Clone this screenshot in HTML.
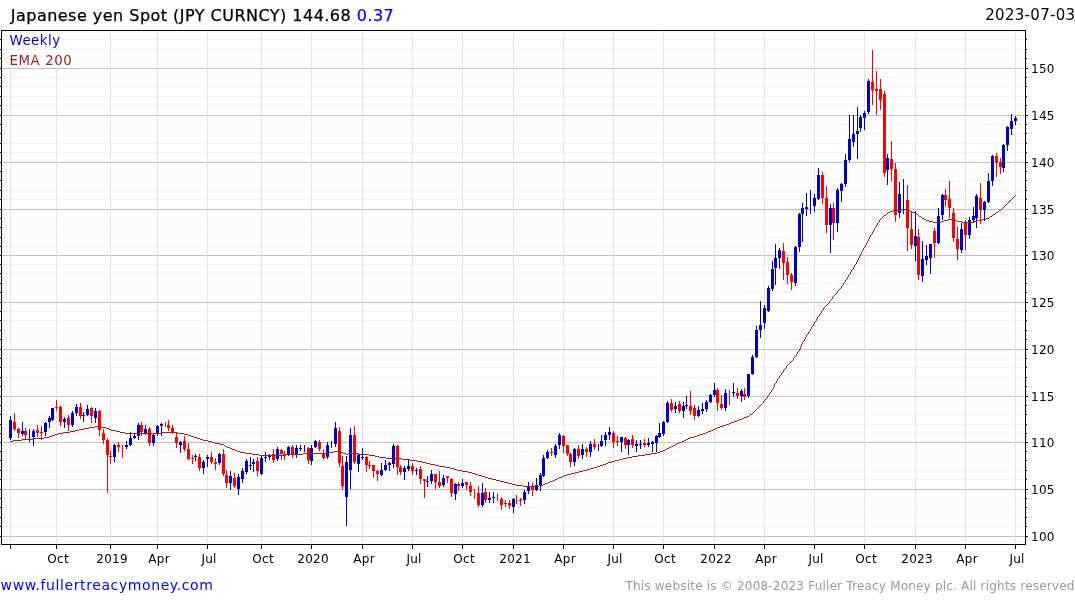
<!DOCTYPE html>
<html lang="en"><head><meta charset="utf-8"><title>Japanese yen Spot (JPY CURNCY)</title>
<style>html,body{margin:0;padding:0;background:#fff}body{width:1075px;height:600px;overflow:hidden}svg{display:block;will-change:transform}text{font-family:"DejaVu Sans","Liberation Sans",sans-serif}</style></head><body>
<svg width="1075" height="600" viewBox="0 0 1075 600">
<rect width="1075" height="600" fill="#fff"/>
<g shape-rendering="crispEdges" fill="none">
<path d="M2 526.5H1025M2 517.5H1025M2 507.5H1025M2 498.5H1025M2 479.5H1025M2 470.5H1025M2 460.5H1025M2 451.5H1025M2 433.5H1025M2 424.5H1025M2 414.5H1025M2 405.5H1025M2 386.5H1025M2 377.5H1025M2 367.5H1025M2 358.5H1025M2 339.5H1025M2 330.5H1025M2 320.5H1025M2 311.5H1025M2 292.5H1025M2 283.5H1025M2 273.5H1025M2 264.5H1025M2 246.5H1025M2 237.5H1025M2 227.5H1025M2 218.5H1025M2 199.5H1025M2 190.5H1025M2 180.5H1025M2 171.5H1025M2 152.5H1025M2 143.5H1025M2 133.5H1025M2 124.5H1025M2 105.5H1025M2 96.5H1025M2 86.5H1025M2 77.5H1025M2 58.5H1025M2 49.5H1025M2 39.5H1025M2 30.5H1025" stroke="#f1f1f1"/>
<path d="M2 536.5H1025M2 489.5H1025M2 442.5H1025M2 396.5H1025M2 349.5H1025M2 302.5H1025M2 255.5H1025M2 209.5H1025M2 162.5H1025M2 115.5H1025M2 68.5H1025" stroke="#c0c0c0"/>
<path d="M10.5 31V544M56.5 31V544M110.5 31V544M157.5 31V544M207.5 31V544M261.5 31V544M311.5 31V544M362.5 31V544M412.5 31V544M462.5 31V544M513.5 31V544M563.5 31V544M613.5 31V544M663.5 31V544M714.5 31V544M764.5 31V544M814.5 31V544M864.5 31V544M915.5 31V544M965.5 31V544M1015.5 31V544" stroke="#e3e3e3"/>
</g>
<rect x="10" y="31" width="50" height="17" fill="#fff"/><rect x="10" y="50" width="61" height="17" fill="#fff"/>
<text x="9.5" y="45" font-size="13.33" letter-spacing=".5" fill="#0000cd">Weekly</text>
<text x="9.5" y="65" font-size="13.33" letter-spacing=".6" fill="#a01e22">EMA 200</text>
<g shape-rendering="crispEdges">
<path d="M10.5 416V440M22.5 422V436M29.5 429V442M33.5 429V446M45.5 422V436M49.5 416V428M52.5 408V421M64.5 417V428M72.5 411V427M76.5 404V416M83.5 412V422M87.5 405V416M95.5 408V423M114.5 444V462M126.5 441V449M130.5 432V446M134.5 434V439M138.5 423V440M145.5 425V435M153.5 434V446M157.5 425V436M161.5 423V436M180.5 441V453M195.5 454V461M203.5 460V474M207.5 455V467M219.5 453V465M230.5 471V490M238.5 474V495M242.5 468V483M246.5 459V474M250.5 457V470M253.5 459V472M261.5 456V475M265.5 452V462M269.5 454V460M277.5 447V461M288.5 446V456M296.5 445V458M300.5 445V451M304.5 445V452M311.5 445V465M315.5 440V448M327.5 442V459M331.5 441V448M335.5 422V447M346.5 456V526M350.5 428V489M358.5 454V472M362.5 448V460M381.5 463V476M385.5 460V471M389.5 462V471M393.5 444V468M404.5 466V480M408.5 460V471M416.5 468V475M427.5 476V487M431.5 470V484M443.5 475V487M455.5 483V500M462.5 479V488M482.5 483V507M489.5 492V503M493.5 492V503M513.5 498V513M524.5 490V504M528.5 482V494M536.5 478V491M540.5 473V491M543.5 455V477M547.5 450V459M555.5 444V458M559.5 433V449M574.5 448V466M582.5 444V459M590.5 441V457M598.5 444V451M601.5 435V447M605.5 432V446M609.5 427V440M621.5 437V452M628.5 439V455M636.5 440V452M640.5 440V449M648.5 438V447M652.5 441V452M656.5 435V452M659.5 423V438M663.5 421V436M667.5 401V423M675.5 402V413M683.5 402V418M686.5 396V409M698.5 406V417M702.5 403V414M706.5 400V412M710.5 394V403M714.5 383V397M725.5 389V411M733.5 383V397M741.5 389V402M748.5 374V398M752.5 355V375M756.5 326V358M760.5 301V338M764.5 305V329M768.5 286V312M772.5 261V291M775.5 244V285M779.5 248V269M795.5 246V286M799.5 213V252M802.5 203V242M806.5 193V216M810.5 190V214M814.5 194V212M818.5 168V200M830.5 204V253M837.5 188V232M841.5 183V202M845.5 154V187M849.5 115V162M853.5 115V147M857.5 107V159M860.5 115V132M864.5 111V130M868.5 79V114M887.5 154V185M899.5 182V218M903.5 179V214M915.5 211V261M922.5 241V282M926.5 245V265M930.5 244V274M938.5 208V244M942.5 194V220M961.5 223V253M969.5 217V239M973.5 207V222M976.5 194V228M984.5 201V221M988.5 173V203M992.5 155V186M1003.5 144V172M1007.5 126V151M1011.5 114V135M1015.5 116V125" stroke="#0000cd" fill="none"/>
<path d="M9 420h3V438h-3zM21 431h3V434h-3zM32 431h3V437h-3zM44 423h3V432h-3zM48 418h3V422h-3zM51 408h3V420h-3zM63 419h3V422h-3zM71 413h3V425h-3zM75 407h3V413h-3zM82 415h3V416h-3zM86 409h3V415h-3zM94 411h3V418h-3zM113 445h3V457h-3zM125 445h3V447h-3zM129 438h3V445h-3zM133 436h3V438h-3zM137 425h3V436h-3zM144 429h3V433h-3zM152 435h3V443h-3zM156 426h3V433h-3zM160 424h3V426h-3zM179 442h3V445h-3zM194 456h3V457h-3zM202 462h3V468h-3zM206 457h3V459h-3zM218 454h3V463h-3zM229 476h3V483h-3zM237 477h3V489h-3zM241 471h3V479h-3zM245 461h3V472h-3zM249 465h3V466h-3zM252 462h3V464h-3zM260 458h3V474h-3zM264 457h3V458h-3zM268 456h3V457h-3zM276 449h3V459h-3zM287 447h3V454h-3zM295 448h3V454h-3zM299 448h3V449h-3zM310 448h3V461h-3zM314 441h3V447h-3zM326 445h3V457h-3zM334 428h3V444h-3zM345 462h3V497h-3zM349 435h3V470h-3zM357 455h3V464h-3zM361 457h3V458h-3zM380 470h3V475h-3zM384 465h3V470h-3zM388 463h3V465h-3zM392 446h3V464h-3zM403 468h3V472h-3zM407 466h3V469h-3zM415 470h3V471h-3zM426 481h3V482h-3zM430 474h3V481h-3zM442 478h3V485h-3zM454 484h3V494h-3zM461 483h3V486h-3zM481 493h3V505h-3zM488 498h3V500h-3zM492 497h3V498h-3zM512 499h3V507h-3zM523 492h3V500h-3zM527 486h3V491h-3zM535 485h3V490h-3zM539 475h3V485h-3zM542 458h3V476h-3zM546 452h3V458h-3zM554 446h3V455h-3zM558 435h3V445h-3zM573 449h3V462h-3zM581 449h3V455h-3zM589 444h3V452h-3zM600 441h3V446h-3zM604 435h3V440h-3zM608 432h3V435h-3zM620 437h3V442h-3zM627 440h3V445h-3zM635 444h3V446h-3zM639 444h3V445h-3zM647 443h3V445h-3zM651 442h3V444h-3zM655 436h3V443h-3zM658 433h3V437h-3zM662 422h3V434h-3zM666 403h3V422h-3zM674 406h3V409h-3zM682 406h3V411h-3zM685 405h3V406h-3zM697 410h3V416h-3zM701 409h3V411h-3zM705 402h3V409h-3zM709 395h3V402h-3zM713 390h3V395h-3zM724 393h3V408h-3zM732 392h3V393h-3zM740 391h3V396h-3zM747 374h3V396h-3zM751 357h3V374h-3zM755 330h3V357h-3zM759 325h3V330h-3zM763 308h3V323h-3zM767 288h3V311h-3zM771 269h3V289h-3zM774 258h3V268h-3zM778 250h3V258h-3zM794 247h3V283h-3zM798 214h3V247h-3zM801 208h3V214h-3zM805 207h3V209h-3zM813 198h3V206h-3zM817 175h3V199h-3zM829 208h3V225h-3zM836 190h3V223h-3zM840 184h3V191h-3zM844 160h3V184h-3zM848 139h3V160h-3zM852 134h3V142h-3zM856 131h3V134h-3zM859 117h3V128h-3zM863 113h3V118h-3zM867 81h3V112h-3zM886 158h3V170h-3zM898 194h3V213h-3zM914 236h3V246h-3zM921 259h3V276h-3zM925 256h3V260h-3zM929 244h3V258h-3zM937 216h3V243h-3zM941 195h3V215h-3zM960 229h3V250h-3zM968 220h3V235h-3zM972 216h3V220h-3zM975 196h3V218h-3zM983 202h3V210h-3zM987 181h3V202h-3zM991 156h3V181h-3zM1002 145h3V168h-3zM1006 127h3V145h-3zM1010 121h3V129h-3zM1014 118h3V121h-3z" fill="#0000cd"/>
<path d="M14.5 413V431M18.5 428V438M25.5 428V439M37.5 425V437M41.5 426V440M56.5 400V411M60.5 406V426M68.5 415V431M80.5 403V419M91.5 407V423M99.5 410V436M103.5 429V444M107.5 438V493M110.5 451V464M118.5 442V452M122.5 445V458M141.5 422V436M149.5 427V446M165.5 422V427M168.5 420V431M172.5 425V434M176.5 432V448M184.5 436V451M188.5 443V460M192.5 455V464M199.5 454V471M211.5 452V464M215.5 458V470M223.5 449V476M226.5 470V488M234.5 473V488M257.5 457V476M273.5 449V463M281.5 449V460M284.5 451V460M292.5 445V458M308.5 447V464M319.5 440V451M323.5 449V459M339.5 427V467M342.5 456V490M354.5 426V464M366.5 456V472M369.5 461V469M373.5 465V478M377.5 470V481M397.5 445V475M400.5 465V475M412.5 463V475M420.5 466V484M424.5 479V498M435.5 474V489M439.5 471V488M447.5 476V483M451.5 478V497M458.5 482V491M466.5 482V490M470.5 482V496M474.5 489V499M478.5 486V507M485.5 488V503M497.5 493V501M501.5 497V510M505.5 500V507M509.5 500V509M516.5 495V504M520.5 498V506M532.5 483V496M551.5 448V456M563.5 435V453M567.5 445V456M570.5 453V467M578.5 445V459M586.5 447V457M594.5 439V450M613.5 431V448M617.5 436V446M625.5 437V449M632.5 435V448M644.5 439V447M671.5 399V412M679.5 401V413M690.5 391V415M694.5 405V420M717.5 388V411M721.5 395V410M729.5 390V405M737.5 388V399M744.5 388V400M783.5 243V280M787.5 257V284M791.5 273V290M822.5 172V204M826.5 186V233M833.5 203V240M872.5 50V105M876.5 71V115M880.5 79V110M884.5 91V177M891.5 141V181M895.5 163V222M907.5 185V251M911.5 212V249M918.5 229V280M934.5 228V258M945.5 189V207M949.5 181V218M953.5 208V242M957.5 227V260M965.5 220V250M980.5 183V224M996.5 153V177M1000.5 158V174" stroke="#ff0000" fill="none"/>
<path d="M13 422h3V429h-3zM17 429h3V433h-3zM24 431h3V435h-3zM36 430h3V433h-3zM40 432h3V433h-3zM55 407h3V408h-3zM59 407h3V422h-3zM67 418h3V425h-3zM79 407h3V416h-3zM90 408h3V416h-3zM98 411h3V430h-3zM102 433h3V440h-3zM106 440h3V455h-3zM109 456h3V457h-3zM117 445h3V447h-3zM140 425h3V432h-3zM148 429h3V443h-3zM167 425h3V428h-3zM171 428h3V432h-3zM175 437h3V443h-3zM183 441h3V449h-3zM187 449h3V459h-3zM191 458h3V459h-3zM198 457h3V468h-3zM210 457h3V462h-3zM214 462h3V464h-3zM222 454h3V474h-3zM225 475h3V483h-3zM233 478h3V486h-3zM256 461h3V471h-3zM272 454h3V460h-3zM280 450h3V454h-3zM283 454h3V455h-3zM291 447h3V455h-3zM307 448h3V460h-3zM318 442h3V449h-3zM322 453h3V458h-3zM338 431h3V463h-3zM341 466h3V486h-3zM353 435h3V462h-3zM365 457h3V465h-3zM368 465h3V466h-3zM372 465h3V471h-3zM376 471h3V474h-3zM396 446h3V467h-3zM399 467h3V472h-3zM411 466h3V471h-3zM419 469h3V479h-3zM423 479h3V481h-3zM434 474h3V482h-3zM438 482h3V486h-3zM446 476h3V478h-3zM450 479h3V493h-3zM457 484h3V486h-3zM465 482h3V485h-3zM469 486h3V492h-3zM477 493h3V505h-3zM484 492h3V500h-3zM500 499h3V505h-3zM504 503h3V504h-3zM508 503h3V506h-3zM519 500h3V501h-3zM531 487h3V490h-3zM550 452h3V453h-3zM562 436h3V446h-3zM566 445h3V454h-3zM569 454h3V462h-3zM577 449h3V456h-3zM585 449h3V452h-3zM593 444h3V447h-3zM612 433h3V442h-3zM616 441h3V442h-3zM624 438h3V445h-3zM631 439h3V445h-3zM643 443h3V445h-3zM670 403h3V410h-3zM678 404h3V411h-3zM689 406h3V411h-3zM693 408h3V416h-3zM716 390h3V403h-3zM720 404h3V408h-3zM736 393h3V396h-3zM743 394h3V397h-3zM782 251h3V263h-3zM786 262h3V275h-3zM790 275h3V282h-3zM821 175h3V198h-3zM825 198h3V225h-3zM832 208h3V223h-3zM871 82h3V90h-3zM875 89h3V91h-3zM879 89h3V100h-3zM883 94h3V173h-3zM890 159h3V169h-3zM894 169h3V215h-3zM906 200h3V228h-3zM910 229h3V245h-3zM917 237h3V275h-3zM933 231h3V243h-3zM944 195h3V200h-3zM948 199h3V208h-3zM952 213h3V238h-3zM956 239h3V249h-3zM964 223h3V235h-3zM979 198h3V210h-3zM995 156h3V163h-3zM999 162h3V167h-3z" fill="#ff0000"/>
</g>
<path d="M1015 195h1v1h-1zM1014 196h1v1h-1zM1013 197h1v1h-1zM1012 198h1v1h-1zM1011 199h1v1h-1zM1010 200h1v1h-1zM1009 201h1v1h-1zM1008 202h1v1h-1zM1007 203h1v1h-1zM1006 204h1v1h-1zM1005 205h1v1h-1zM1004 206h1v1h-1zM1003 207h1v1h-1zM1002 208h1v1h-1zM902 209h4v1h-4zM1001 209h1v1h-1zM893 210h9v1h-9zM906 210h4v1h-4zM999 210h2v1h-2zM890 211h3v1h-3zM910 211h2v1h-2zM998 211h1v1h-1zM888 212h2v1h-2zM912 212h3v1h-3zM996 212h2v1h-2zM887 213h1v1h-1zM915 213h2v1h-2zM995 213h1v1h-1zM886 214h1v1h-1zM917 214h1v1h-1zM993 214h2v1h-2zM884 215h2v1h-2zM918 215h1v1h-1zM992 215h1v1h-1zM883 216h1v1h-1zM919 216h2v1h-2zM990 216h2v1h-2zM882 217h1v1h-1zM921 217h1v1h-1zM989 217h1v1h-1zM881 218h1v1h-1zM922 218h2v1h-2zM986 218h3v1h-3zM880 219h1v1h-1zM924 219h2v1h-2zM948 219h5v1h-5zM982 219h4v1h-4zM879 220h1v1h-1zM926 220h3v1h-3zM944 220h4v1h-4zM953 220h4v1h-4zM977 220h5v1h-5zM879 221h1v1h-1zM929 221h4v1h-4zM941 221h3v1h-3zM957 221h5v1h-5zM974 221h3v1h-3zM878 222h1v1h-1zM933 222h8v1h-8zM962 222h12v1h-12zM877 223h1v1h-1zM877 224h1v1h-1zM876 225h1v1h-1zM876 226h1v1h-1zM875 227h1v1h-1zM874 228h1v1h-1zM874 229h1v1h-1zM873 230h1v1h-1zM873 231h1v1h-1zM872 232h1v1h-1zM872 233h1v1h-1zM871 234h1v1h-1zM870 235h1v1h-1zM870 236h1v1h-1zM869 237h1v1h-1zM869 238h1v1h-1zM868 239h1v1h-1zM868 240h1v1h-1zM867 241h1v1h-1zM867 242h1v1h-1zM866 243h1v1h-1zM866 244h1v1h-1zM865 245h1v1h-1zM865 246h1v1h-1zM864 247h1v1h-1zM863 248h1v1h-1zM863 249h1v1h-1zM862 250h1v1h-1zM862 251h1v1h-1zM861 252h1v1h-1zM861 253h1v1h-1zM860 254h1v1h-1zM860 255h1v1h-1zM859 256h1v1h-1zM859 257h1v1h-1zM858 258h1v1h-1zM858 259h1v1h-1zM857 260h1v1h-1zM857 261h1v1h-1zM856 262h1v1h-1zM856 263h1v1h-1zM855 264h1v1h-1zM854 265h1v1h-1zM854 266h1v1h-1zM853 267h1v1h-1zM853 268h1v1h-1zM852 269h1v1h-1zM851 270h1v1h-1zM851 271h1v1h-1zM850 272h1v1h-1zM850 273h1v1h-1zM849 274h1v1h-1zM848 275h1v1h-1zM848 276h1v1h-1zM847 277h1v1h-1zM847 278h1v1h-1zM846 279h1v1h-1zM845 280h1v1h-1zM845 281h1v1h-1zM844 282h1v1h-1zM843 283h1v1h-1zM843 284h1v1h-1zM842 285h1v1h-1zM841 286h1v1h-1zM841 287h1v1h-1zM840 288h1v1h-1zM839 289h1v1h-1zM838 290h1v1h-1zM837 291h1v1h-1zM837 292h1v1h-1zM836 293h1v1h-1zM835 294h1v1h-1zM834 295h1v1h-1zM833 296h1v1h-1zM832 297h1v1h-1zM832 298h1v1h-1zM831 299h1v1h-1zM830 300h1v1h-1zM829 301h1v1h-1zM829 302h1v1h-1zM828 303h1v1h-1zM827 304h1v1h-1zM826 305h1v1h-1zM825 306h1v1h-1zM824 307h1v1h-1zM823 308h1v1h-1zM823 309h1v1h-1zM822 310h1v1h-1zM821 311h1v1h-1zM821 312h1v1h-1zM820 313h1v1h-1zM819 314h1v1h-1zM819 315h1v1h-1zM818 316h1v1h-1zM817 317h1v1h-1zM817 318h1v1h-1zM816 319h1v1h-1zM816 320h1v1h-1zM815 321h1v1h-1zM814 322h1v1h-1zM814 323h1v1h-1zM813 324h1v1h-1zM813 325h1v1h-1zM812 326h1v1h-1zM811 327h1v1h-1zM811 328h1v1h-1zM810 329h1v1h-1zM810 330h1v1h-1zM809 331h1v1h-1zM808 332h1v1h-1zM808 333h1v1h-1zM807 334h1v1h-1zM806 335h1v1h-1zM806 336h1v1h-1zM805 337h1v1h-1zM805 338h1v1h-1zM804 339h1v1h-1zM804 340h1v1h-1zM803 341h1v1h-1zM802 342h1v1h-1zM802 343h1v1h-1zM801 344h1v1h-1zM801 345h1v1h-1zM801 346h1v1h-1zM800 347h1v1h-1zM800 348h1v1h-1zM799 349h1v1h-1zM799 350h1v1h-1zM798 351h1v1h-1zM797 352h1v1h-1zM797 353h1v1h-1zM796 354h1v1h-1zM796 355h1v1h-1zM795 356h1v1h-1zM794 357h1v1h-1zM793 358h1v1h-1zM793 359h1v1h-1zM792 360h1v1h-1zM791 361h1v1h-1zM790 362h1v1h-1zM789 363h1v1h-1zM788 364h1v1h-1zM787 365h1v1h-1zM786 366h1v1h-1zM786 367h1v1h-1zM785 368h1v1h-1zM784 369h1v1h-1zM783 370h1v1h-1zM783 371h1v1h-1zM782 372h1v1h-1zM781 373h1v1h-1zM781 374h1v1h-1zM780 375h1v1h-1zM779 376h1v1h-1zM779 377h1v1h-1zM778 378h1v1h-1zM777 379h1v1h-1zM777 380h1v1h-1zM776 381h1v1h-1zM776 382h1v1h-1zM775 383h1v1h-1zM774 384h1v1h-1zM774 385h1v1h-1zM774 386h1v1h-1zM773 387h1v1h-1zM773 388h1v1h-1zM772 389h1v1h-1zM771 390h1v1h-1zM771 391h1v1h-1zM770 392h1v1h-1zM769 393h1v1h-1zM769 394h1v1h-1zM768 395h1v1h-1zM767 396h1v1h-1zM767 397h1v1h-1zM766 398h1v1h-1zM765 399h1v1h-1zM764 400h1v1h-1zM763 401h1v1h-1zM763 402h1v1h-1zM762 403h1v1h-1zM761 404h1v1h-1zM760 405h1v1h-1zM759 406h1v1h-1zM758 407h1v1h-1zM757 408h1v1h-1zM756 409h1v1h-1zM755 410h1v1h-1zM754 411h1v1h-1zM753 412h1v1h-1zM752 413h1v1h-1zM750 414h2v1h-2zM749 415h1v1h-1zM747 416h2v1h-2zM744 417h3v1h-3zM742 418h2v1h-2zM739 419h3v1h-3zM737 420h2v1h-2zM734 421h3v1h-3zM731 422h3v1h-3zM729 423h2v1h-2zM726 424h3v1h-3zM723 425h3v1h-3zM95 426h6v1h-6zM720 426h3v1h-3zM89 427h6v1h-6zM101 427h5v1h-5zM717 427h3v1h-3zM84 428h5v1h-5zM106 428h3v1h-3zM715 428h2v1h-2zM79 429h5v1h-5zM109 429h2v1h-2zM713 429h2v1h-2zM75 430h4v1h-4zM111 430h5v1h-5zM711 430h2v1h-2zM70 431h5v1h-5zM116 431h4v1h-4zM708 431h3v1h-3zM63 432h7v1h-7zM120 432h5v1h-5zM162 432h16v1h-16zM706 432h2v1h-2zM58 433h5v1h-5zM125 433h37v1h-37zM178 433h6v1h-6zM703 433h3v1h-3zM55 434h3v1h-3zM184 434h4v1h-4zM700 434h3v1h-3zM52 435h3v1h-3zM188 435h3v1h-3zM697 435h3v1h-3zM49 436h3v1h-3zM191 436h3v1h-3zM694 436h3v1h-3zM44 437h5v1h-5zM194 437h3v1h-3zM690 437h4v1h-4zM34 438h10v1h-10zM197 438h3v1h-3zM688 438h2v1h-2zM22 439h12v1h-12zM200 439h3v1h-3zM686 439h2v1h-2zM13 440h9v1h-9zM203 440h5v1h-5zM684 440h2v1h-2zM10 441h3v1h-3zM208 441h4v1h-4zM682 441h2v1h-2zM212 442h3v1h-3zM679 442h3v1h-3zM215 443h5v1h-5zM677 443h2v1h-2zM220 444h4v1h-4zM675 444h2v1h-2zM224 445h1v1h-1zM673 445h2v1h-2zM225 446h2v1h-2zM671 446h2v1h-2zM227 447h3v1h-3zM669 447h2v1h-2zM230 448h2v1h-2zM667 448h2v1h-2zM232 449h3v1h-3zM665 449h2v1h-2zM235 450h2v1h-2zM663 450h2v1h-2zM237 451h3v1h-3zM334 451h6v1h-6zM660 451h3v1h-3zM240 452h5v1h-5zM327 452h7v1h-7zM340 452h3v1h-3zM657 452h3v1h-3zM245 453h7v1h-7zM303 453h24v1h-24zM343 453h3v1h-3zM348 453h11v1h-11zM651 453h6v1h-6zM252 454h7v1h-7zM286 454h17v1h-17zM346 454h2v1h-2zM359 454h10v1h-10zM645 454h6v1h-6zM259 455h27v1h-27zM369 455h6v1h-6zM638 455h7v1h-7zM375 456h4v1h-4zM632 456h6v1h-6zM379 457h7v1h-7zM627 457h5v1h-5zM386 458h16v1h-16zM623 458h4v1h-4zM402 459h8v1h-8zM619 459h4v1h-4zM410 460h7v1h-7zM615 460h4v1h-4zM417 461h5v1h-5zM612 461h3v1h-3zM422 462h4v1h-4zM608 462h4v1h-4zM426 463h4v1h-4zM606 463h2v1h-2zM430 464h5v1h-5zM603 464h3v1h-3zM435 465h4v1h-4zM600 465h3v1h-3zM439 466h6v1h-6zM597 466h3v1h-3zM445 467h5v1h-5zM594 467h3v1h-3zM450 468h4v1h-4zM590 468h4v1h-4zM454 469h3v1h-3zM587 469h3v1h-3zM457 470h5v1h-5zM583 470h4v1h-4zM462 471h6v1h-6zM579 471h4v1h-4zM468 472h4v1h-4zM575 472h4v1h-4zM472 473h3v1h-3zM571 473h4v1h-4zM475 474h3v1h-3zM567 474h4v1h-4zM478 475h4v1h-4zM564 475h3v1h-3zM482 476h3v1h-3zM562 476h2v1h-2zM485 477h3v1h-3zM559 477h3v1h-3zM488 478h4v1h-4zM557 478h2v1h-2zM492 479h4v1h-4zM555 479h2v1h-2zM496 480h4v1h-4zM553 480h2v1h-2zM500 481h4v1h-4zM550 481h3v1h-3zM504 482h4v1h-4zM548 482h2v1h-2zM508 483h4v1h-4zM545 483h3v1h-3zM512 484h4v1h-4zM543 484h2v1h-2zM516 485h7v1h-7zM539 485h4v1h-4zM523 486h16v1h-16z" fill="#a01e22" shape-rendering="crispEdges"/>
<g shape-rendering="crispEdges" stroke="#000" fill="none">
<path d="M1.5 30V545M1 30.5H1026M1025.5 30V545M1 544.5H1026"/>
<path d="M10.5 545V549M56.5 545V549M110.5 545V549M157.5 545V549M207.5 545V549M261.5 545V549M311.5 545V549M362.5 545V549M412.5 545V549M462.5 545V549M513.5 545V549M563.5 545V549M613.5 545V549M663.5 545V549M714.5 545V549M764.5 545V549M814.5 545V549M864.5 545V549M915.5 545V549M965.5 545V549M1015.5 545V549M1026 536.5h2M0 536.5h1M1026 526.5h1M0 526.5h1M1026 517.5h1M0 517.5h1M1026 507.5h1M0 507.5h1M1026 498.5h1M0 498.5h1M1026 489.5h2M0 489.5h1M1026 479.5h1M0 479.5h1M1026 470.5h1M0 470.5h1M1026 460.5h1M0 460.5h1M1026 451.5h1M0 451.5h1M1026 442.5h2M0 442.5h1M1026 433.5h1M0 433.5h1M1026 424.5h1M0 424.5h1M1026 414.5h1M0 414.5h1M1026 405.5h1M0 405.5h1M1026 396.5h2M0 396.5h1M1026 386.5h1M0 386.5h1M1026 377.5h1M0 377.5h1M1026 367.5h1M0 367.5h1M1026 358.5h1M0 358.5h1M1026 349.5h2M0 349.5h1M1026 339.5h1M0 339.5h1M1026 330.5h1M0 330.5h1M1026 320.5h1M0 320.5h1M1026 311.5h1M0 311.5h1M1026 302.5h2M0 302.5h1M1026 292.5h1M0 292.5h1M1026 283.5h1M0 283.5h1M1026 273.5h1M0 273.5h1M1026 264.5h1M0 264.5h1M1026 255.5h2M0 255.5h1M1026 246.5h1M0 246.5h1M1026 237.5h1M0 237.5h1M1026 227.5h1M0 227.5h1M1026 218.5h1M0 218.5h1M1026 209.5h2M0 209.5h1M1026 199.5h1M0 199.5h1M1026 190.5h1M0 190.5h1M1026 180.5h1M0 180.5h1M1026 171.5h1M0 171.5h1M1026 162.5h2M0 162.5h1M1026 152.5h1M0 152.5h1M1026 143.5h1M0 143.5h1M1026 133.5h1M0 133.5h1M1026 124.5h1M0 124.5h1M1026 115.5h2M0 115.5h1M1026 105.5h1M0 105.5h1M1026 96.5h1M0 96.5h1M1026 86.5h1M0 86.5h1M1026 77.5h1M0 77.5h1M1026 68.5h2M0 68.5h1M1026 58.5h1M0 58.5h1M1026 49.5h1M0 49.5h1M1026 39.5h1M0 39.5h1"/>
</g>
<g font-size="12" letter-spacing=".25" fill="#000">
<text x="58.1" y="563" text-anchor="middle">Oct</text>
<text x="112.1" y="563" text-anchor="middle">2019</text>
<text x="159.1" y="563" text-anchor="middle">Apr</text>
<text x="209.1" y="563" text-anchor="middle">Jul</text>
<text x="263.1" y="563" text-anchor="middle">Oct</text>
<text x="313.1" y="563" text-anchor="middle">2020</text>
<text x="364.1" y="563" text-anchor="middle">Apr</text>
<text x="414.1" y="563" text-anchor="middle">Jul</text>
<text x="464.1" y="563" text-anchor="middle">Oct</text>
<text x="515.1" y="563" text-anchor="middle">2021</text>
<text x="565.1" y="563" text-anchor="middle">Apr</text>
<text x="615.1" y="563" text-anchor="middle">Jul</text>
<text x="665.1" y="563" text-anchor="middle">Oct</text>
<text x="716.1" y="563" text-anchor="middle">2022</text>
<text x="766.1" y="563" text-anchor="middle">Apr</text>
<text x="816.1" y="563" text-anchor="middle">Jul</text>
<text x="866.1" y="563" text-anchor="middle">Oct</text>
<text x="917.1" y="563" text-anchor="middle">2023</text>
<text x="967.1" y="563" text-anchor="middle">Apr</text>
<text x="1017.1" y="563" text-anchor="middle">Jul</text>
<text x="1031" y="541">100</text>
<text x="1031" y="494">105</text>
<text x="1031" y="447">110</text>
<text x="1031" y="401">115</text>
<text x="1031" y="354">120</text>
<text x="1031" y="307">125</text>
<text x="1031" y="260">130</text>
<text x="1031" y="214">135</text>
<text x="1031" y="167">140</text>
<text x="1031" y="120">145</text>
<text x="1031" y="73">150</text>
</g>
<text x="10.8" y="20.6" font-size="16" letter-spacing=".475" fill="#000" stroke="#000" stroke-width=".25">Japanese yen Spot (JPY CURNCY) 144.68 <tspan fill="#0000ff" stroke="#0000ff">0.37</tspan></text>
<text x="1075.4" y="20.4" font-size="15" letter-spacing=".3" fill="#000" text-anchor="end">2023-07-03</text>
<text x="0.6" y="590" font-size="14" letter-spacing=".6" fill="#0000ff">www.fullertreacymoney.com</text>
<text x="1074.6" y="590" font-size="12" letter-spacing=".2" fill="#999" text-anchor="end">This website is © 2008-2023 Fuller Treacy Money plc. All rights reserved</text>
</svg></body></html>
